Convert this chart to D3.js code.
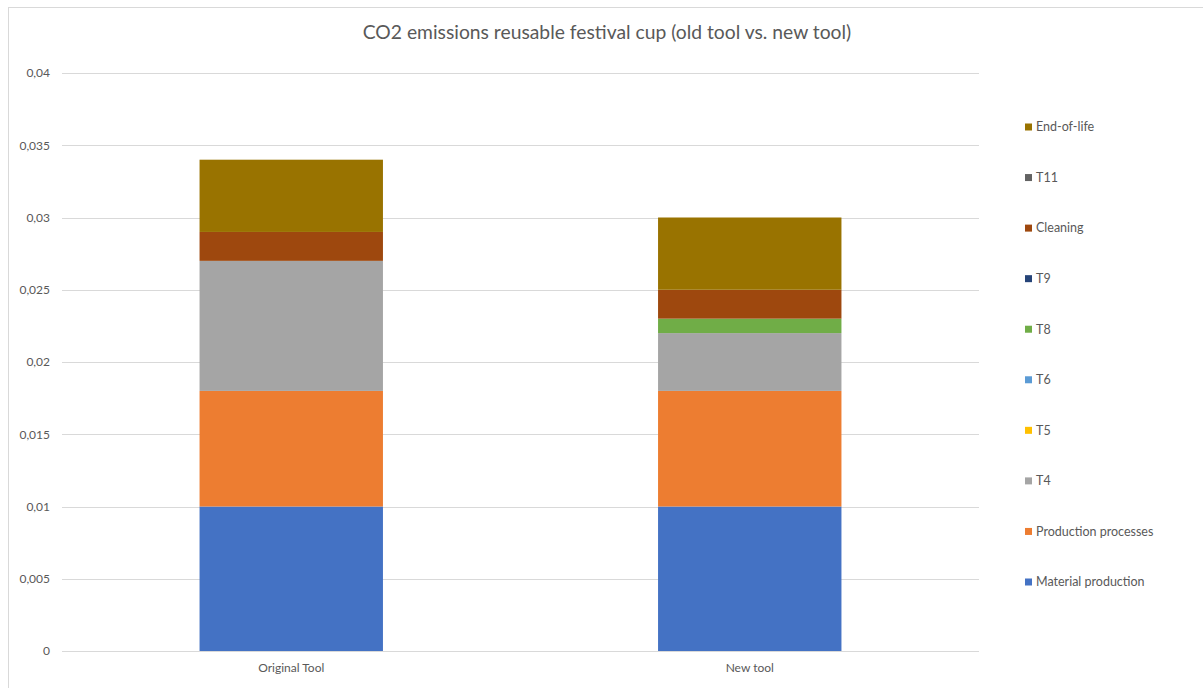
<!DOCTYPE html>
<html>
<head>
<meta charset="utf-8">
<script src="https://cdn.jsdelivr.net/npm/d3@7"></script>
<style>
  html, body { margin: 0; padding: 0; background: #fff; }
  svg { display: block; font-family: "Lato", "Open Sans", sans-serif; }
</style>
</head>
<body>
<svg id="chart" width="1203" height="688"></svg>
<script>
// Categories (x axis)
const categories = ["Original Tool", "New tool"];

// Stack order, bottom to top
const seriesNames = ["Material production", "Production processes", "T4", "T5", "T6", "T8", "T9", "Cleaning", "T11", "End-of-life"];
const seriesColors = ["#4472C4", "#ED7D31", "#A5A5A5", "#FFC000", "#5B9BD5", "#70AD47", "#264478", "#9E480E", "#636363", "#997300"];

// Values per category, in seriesNames order
const originalTool = [0.010, 0.008, 0.009, 0, 0, 0, 0, 0.002, 0, 0.005];
const newTool      = [0.010, 0.008, 0.004, 0, 0, 0.001, 0, 0.002, 0, 0.005];

// Y axis ticks
const yTicks = [0, 0.005, 0.01, 0.015, 0.02, 0.025, 0.03, 0.035, 0.04];

const title = "CO2 emissions reusable festival cup (old tool vs. new tool)";

const svg = d3.select("#chart");
const W = 1203, H = 688;
const plot = { left: 62, right: 979, top: 73, bottom: 651 };
const textColor = "#595959";
const gridColor = "#d9d9d9";

// Chart area outline
svg.append("rect")
  .attr("x", 8.5).attr("y", 7.5)
  .attr("width", W + 20).attr("height", H + 20)
  .attr("fill", "none").attr("stroke", gridColor).attr("stroke-width", 1);

const rows = categories.map((c, i) => {
  const vals = i === 0 ? originalTool : newTool;
  const r = { category: c };
  seriesNames.forEach((s, j) => r[s] = vals[j]);
  return r;
});

const x = d3.scaleBand()
  .domain(categories)
  .range([plot.left, plot.right])
  .paddingInner(0.6)
  .paddingOuter(0.3);

const y = d3.scaleLinear()
  .domain([0, 0.04])
  .range([plot.bottom, plot.top]);

const locale = d3.formatLocale({ decimal: ",", thousands: ".", grouping: [3], currency: ["", "€"] });
const fmt = locale.format("~f");

// Gridlines
svg.append("g")
  .selectAll("line")
  .data(yTicks)
  .join("line")
  .attr("x1", plot.left).attr("x2", plot.right)
  .attr("y1", d => Math.round(y(d)) + 0.5).attr("y2", d => Math.round(y(d)) + 0.5)
  .attr("stroke", gridColor).attr("stroke-width", 1);

// Y axis labels
const yAxis = d3.axisLeft(y).tickValues(yTicks).tickFormat(fmt).tickSize(0).tickPadding(0);
const gy = svg.append("g")
  .attr("transform", `translate(${plot.left - 12},0)`)
  .call(yAxis);
gy.select(".domain").remove();
gy.selectAll("text")
  .attr("fill", textColor)
  .style("font-size", "12px")
  .style("font-family", "Lato, 'Open Sans', sans-serif");

// Stacked bars
const stack = d3.stack().keys(seriesNames);
const layers = stack(rows);

svg.append("g")
  .selectAll("g")
  .data(layers)
  .join("g")
  .attr("fill", (d, i) => seriesColors[i])
  .selectAll("rect")
  .data(d => d.filter(p => p[1] - p[0] > 0))
  .join("rect")
  .attr("x", d => x(d.data.category))
  .attr("width", x.bandwidth())
  .attr("y", d => y(d[1]))
  .attr("height", d => y(d[0]) - y(d[1]));

// X axis labels
const xAxis = d3.axisBottom(x).tickSize(0).tickPadding(0);
const gx = svg.append("g")
  .attr("transform", `translate(0,${plot.bottom + 12})`)
  .call(xAxis);
gx.select(".domain").remove();
gx.selectAll("text")
  .attr("fill", textColor)
  .style("font-size", "12px")
  .style("font-family", "Lato, 'Open Sans', sans-serif");

// Title
svg.append("text")
  .attr("x", 607).attr("y", 39)
  .attr("text-anchor", "middle")
  .attr("fill", textColor)
  .style("font-size", "19.3px")
  .text(title);

// Legend (top entry is the top of the stack)
const legendOrder = seriesNames.map((s, i) => ({ name: s, color: seriesColors[i] })).reverse();
const legendY = d3.scalePoint()
  .domain(legendOrder.map(d => d.name))
  .range([127, 582]);

const lg = svg.append("g")
  .selectAll("g")
  .data(legendOrder)
  .join("g")
  .attr("transform", d => `translate(1025,${legendY(d.name)})`);
lg.append("rect")
  .attr("x", 0).attr("y", -3.5)
  .attr("width", 7).attr("height", 7)
  .attr("fill", d => d.color);
lg.append("text")
  .attr("x", 11).attr("y", 0)
  .attr("dy", "0.35em")
  .attr("fill", textColor)
  .style("font-size", "12.5px")
  .text(d => d.name);
</script>
</body>
</html>
